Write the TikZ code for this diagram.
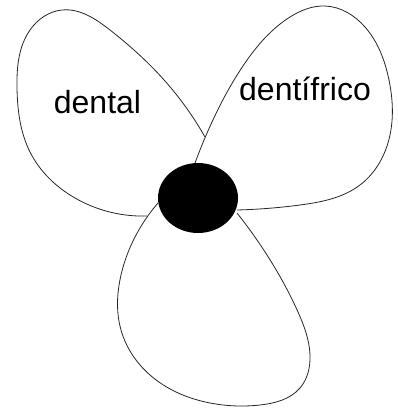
\documentclass[tikz,border=0pt]{standalone}
\usepackage{fontspec}
\setmainfont{Liberation Sans}
\usetikzlibrary{shapes.geometric,hobby}
\begin{document}
\begin{tikzpicture}[x=1pt,y=-1pt,
  petal/.style={line width=0.8pt, draw=black!85, use Hobby shortcut},
  label/.style={anchor=base, inner sep=0pt, font=\fontsize{32}{32}\selectfont}]
\useasboundingbox (0,0) rectangle (397,410);
% dental petal
\draw[petal] (205,137) .. (165,81) .. (110,30) .. (62,10) .. (30,30) .. (17,88) .. (30,152) .. (75,198) .. (147,216);
% dentifrico petal
\draw[petal] (195,163) .. (212,122) .. (245,63) .. (290,17) .. (325,6) .. (365,27) .. (389,80) .. (390,135) .. (360,185) .. (300,205) .. (237,210);
% bottom petal
\draw[petal] (158,203) .. (140,228) .. (121,275) .. (121,330) .. (150,375) .. (210,403) .. (260,405) .. (300,388) .. (310,355) .. (298,312) .. (272,263) .. (237,213);
\node[ellipse, fill=black, minimum width=80pt, minimum height=70pt, inner sep=0pt] (hub) at (198,198) {};
\node[label] (dental) at (97.5,113) {dental};
\node[label] (dentifrico) at (305,100) {dentífrico};
\end{tikzpicture}
\end{document}
